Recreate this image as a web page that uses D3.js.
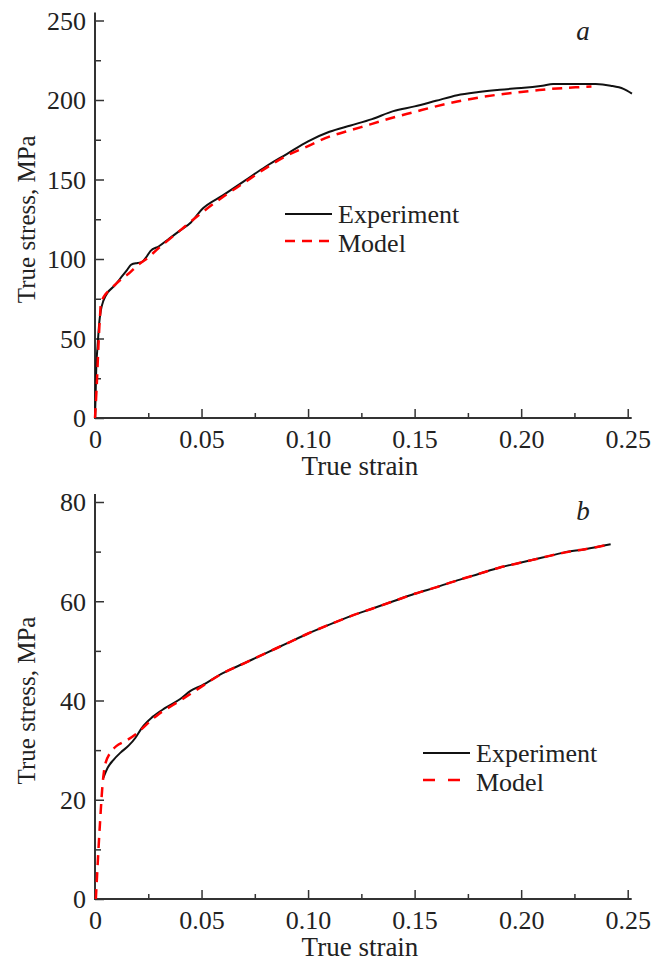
<!DOCTYPE html>
<html><head><meta charset="utf-8">
<script src="https://cdn.jsdelivr.net/npm/d3@7"></script>
<style>
body{margin:0;background:#fff;}
text{font-family:"Liberation Serif","Times New Roman",serif;fill:#222;}
</style></head>
<body><svg id="c" width="664" height="962"></svg>
<script>
// ---------- DATA ----------
const xTicks = [0, 0.05, 0.10, 0.15, 0.20, 0.25];
const xTickLabels = ["0", "0.05", "0.10", "0.15", "0.20", "0.25"];
const xMinorTicks = [0.025, 0.075, 0.125, 0.175, 0.225];

const aYTicks = [0, 50, 100, 150, 200, 250];
const aYMinor = [25, 75, 125, 175, 225];
const bYTicks = [0, 20, 40, 60, 80];
const bYMinor = [10, 30, 50, 70];

// panel a: [strain, stress]
const aExperiment = [
 [0,0],[0.0003,15],[0.0006,32],[0.0012,45],[0.002,60],[0.0028,68],[0.004,74],[0.006,79],
 [0.009,83],[0.012,88],[0.015,93],[0.017,96.5],[0.02,97.5],[0.022,98],[0.024,101],[0.026,105],
 [0.03,108],[0.035,113],[0.04,118],[0.045,123],[0.05,131],[0.06,140],[0.07,149],[0.08,158],
 [0.09,166],[0.10,174],[0.11,180],[0.12,184],[0.13,188],[0.14,193],[0.15,196],[0.16,199.5],
 [0.17,203],[0.18,205],[0.19,206.5],[0.20,207.5],[0.21,209],[0.215,210],[0.225,210],
 [0.235,210],[0.242,209],[0.248,207],[0.252,204]
];
const aModel = [
 [0,0],[0.0008,20],[0.0016,45],[0.0024,65],[0.003,73],[0.005,78],[0.008,82],[0.012,87],
 [0.016,91],[0.02,96],[0.025,101],[0.03,107],[0.04,118],[0.05,129],[0.06,139],[0.07,148],
 [0.08,157],[0.09,165],[0.10,171],[0.11,177],[0.12,181],[0.13,185],[0.14,189],[0.15,192.5],
 [0.16,196],[0.17,199],[0.18,201.5],[0.19,203.5],[0.20,205],[0.21,206.5],[0.22,207.5],[0.233,208.5]
];
// panel b
const bExperiment = [
 [0.0039,24.4],[0.006,26.5],[0.0086,28],[0.012,29.5],[0.016,31],[0.019,32.5],[0.022,34.5],
 [0.027,36.7],[0.033,38.5],[0.04,40.3],[0.045,42],[0.05,43],[0.06,45.5],[0.07,47.5],[0.08,49.5],
 [0.09,51.5],[0.10,53.5],[0.11,55.3],[0.12,57],[0.13,58.5],[0.14,60],[0.15,61.5],[0.16,62.8],
 [0.17,64.2],[0.18,65.5],[0.19,66.8],[0.20,67.8],[0.21,68.8],[0.22,69.8],[0.23,70.5],[0.242,71.5]
];
const bModel = [
 [0.0004,0],[0.0023,15],[0.0039,24.6],[0.005,27.5],[0.0065,29],[0.01,30.8],[0.015,32],
 [0.02,33.5],[0.025,35.5],[0.03,37.3],[0.04,40],[0.05,42.8],[0.06,45.5],[0.07,47.5],[0.08,49.5],
 [0.09,51.5],[0.10,53.5],[0.11,55.3],[0.12,57],[0.13,58.5],[0.14,60],[0.15,61.5],[0.16,62.8],
 [0.17,64.2],[0.18,65.5],[0.19,66.8],[0.20,67.8],[0.21,68.8],[0.22,69.8],[0.23,70.5],[0.24,71.3]
];

const seriesNames = ["Experiment", "Model"];
const panelLetters = ["a", "b"];
const xTitle = "True strain";
const yTitle = "True stress, MPa";

// ---------- DRAW ----------
const svg = d3.select("#c");
const AX = "#333";

function panel(cfg){
  const x = d3.scaleLinear().domain([0,0.25]).range([95,627.7]);
  const y = d3.scaleLinear().domain([0,cfg.ymax]).range([cfg.y0,cfg.y1]);
  const g = svg.append("g");

  // minor ticks
  g.append("g").attr("transform",`translate(0,${cfg.y0})`)
    .call(d3.axisBottom(x).tickValues(xMinorTicks).tickSize(-5).tickSizeOuter(0).tickFormat(""))
    .call(s=>{s.select(".domain").remove(); s.selectAll("line").attr("stroke",AX).attr("stroke-width",1.5);});
  g.append("g").attr("transform",`translate(95,0)`)
    .call(d3.axisLeft(y).tickValues(cfg.yMinor).tickSize(-6).tickSizeOuter(0).tickFormat(""))
    .call(s=>{s.select(".domain").remove(); s.selectAll("line").attr("stroke",AX).attr("stroke-width",1.5);});
  // major ticks
  const xa = g.append("g").attr("transform",`translate(0,${cfg.y0})`)
    .call(d3.axisBottom(x).tickValues(xTicks).tickSize(-9).tickSizeOuter(0)
      .tickFormat((d,i)=>xTickLabels[i]));
  xa.select(".domain").remove();
  xa.selectAll("line").attr("stroke",AX).attr("stroke-width",1.5);
  xa.selectAll("text").attr("y",30).attr("dy",0).attr("font-size",26)
    .style("font-family","'Liberation Serif',serif").attr("fill","#222");
  const ya = g.append("g").attr("transform",`translate(95,0)`)
    .call(d3.axisLeft(y).tickValues(cfg.yTicks).tickSize(-9).tickSizeOuter(0));
  ya.select(".domain").remove();
  ya.selectAll("line").attr("stroke",AX).attr("stroke-width",1.5);
  ya.selectAll("text").attr("x",-9).attr("dy","0.34em").attr("font-size",26)
    .style("font-family","'Liberation Serif',serif").attr("fill","#222");

  // axis lines
  g.append("line").attr("x1",x(0)).attr("x2",x(0)).attr("y1",y(cfg.ymax)-8).attr("y2",y(0)+1)
    .attr("stroke",AX).attr("stroke-width",2);
  g.append("line").attr("x1",x(0)-1).attr("x2",x(0.25)+4).attr("y1",y(0)).attr("y2",y(0))
    .attr("stroke",AX).attr("stroke-width",2);

  const line = d3.line().x(d=>x(d[0])).y(d=>y(d[1])).curve(d3.curveMonotoneX);
  g.append("path").datum(cfg.exp).attr("d",line).attr("fill","none")
    .attr("stroke","#111").attr("stroke-width",2);
  g.append("path").datum(cfg.mod).attr("d",d3.line().x(d=>x(d[0])).y(d=>y(d[1])).curve(d3.curveCatmullRom))
    .attr("fill","none").attr("stroke","#f00").attr("stroke-width",2.5).attr("stroke-dasharray","10,7");

  // titles
  g.append("text").attr("x",360).attr("y",y(0)+57).attr("text-anchor","middle")
    .attr("font-size",27).text(xTitle);
  g.append("text").attr("transform",`translate(35,${(y(0)+y(cfg.ymax))/2}) rotate(-90)`)
    .attr("text-anchor","middle").attr("font-size",25).text(yTitle);
  // letter
  g.append("text").attr("x",583).attr("y",cfg.letterY).attr("text-anchor","middle")
    .attr("font-size",27).attr("font-style","italic").text(cfg.letter);

  // legend
  const L = cfg.leg;
  g.append("line").attr("x1",L.x).attr("x2",L.x+47).attr("y1",L.y).attr("y2",L.y)
    .attr("stroke","#111").attr("stroke-width",2);
  g.append("text").attr("x",L.x+53).attr("y",L.y+9).attr("font-size",26).text(seriesNames[0]);
  g.append("line").attr("x1",L.x).attr("x2",L.x+47).attr("y1",L.y+27).attr("y2",L.y+27)
    .attr("stroke","#f00").attr("stroke-width",2.5).attr("stroke-dasharray",L.dash);
  g.append("text").attr("x",L.x+53).attr("y",L.y+38).attr("font-size",26).text(seriesNames[1]);
}

panel({ymax:250, y0:418, y1:20.5, yTicks:aYTicks, yMinor:aYMinor, exp:aExperiment, mod:aModel,
  letter:panelLetters[0], letterY:40, leg:{x:285,y:214,dash:"10,7"}});
panel({ymax:80, y0:899, y1:502, yTicks:bYTicks, yMinor:bYMinor, exp:bExperiment, mod:bModel,
  letter:panelLetters[1], letterY:520, leg:{x:423,y:753,dash:"12,13"}});
</script></body></html>
